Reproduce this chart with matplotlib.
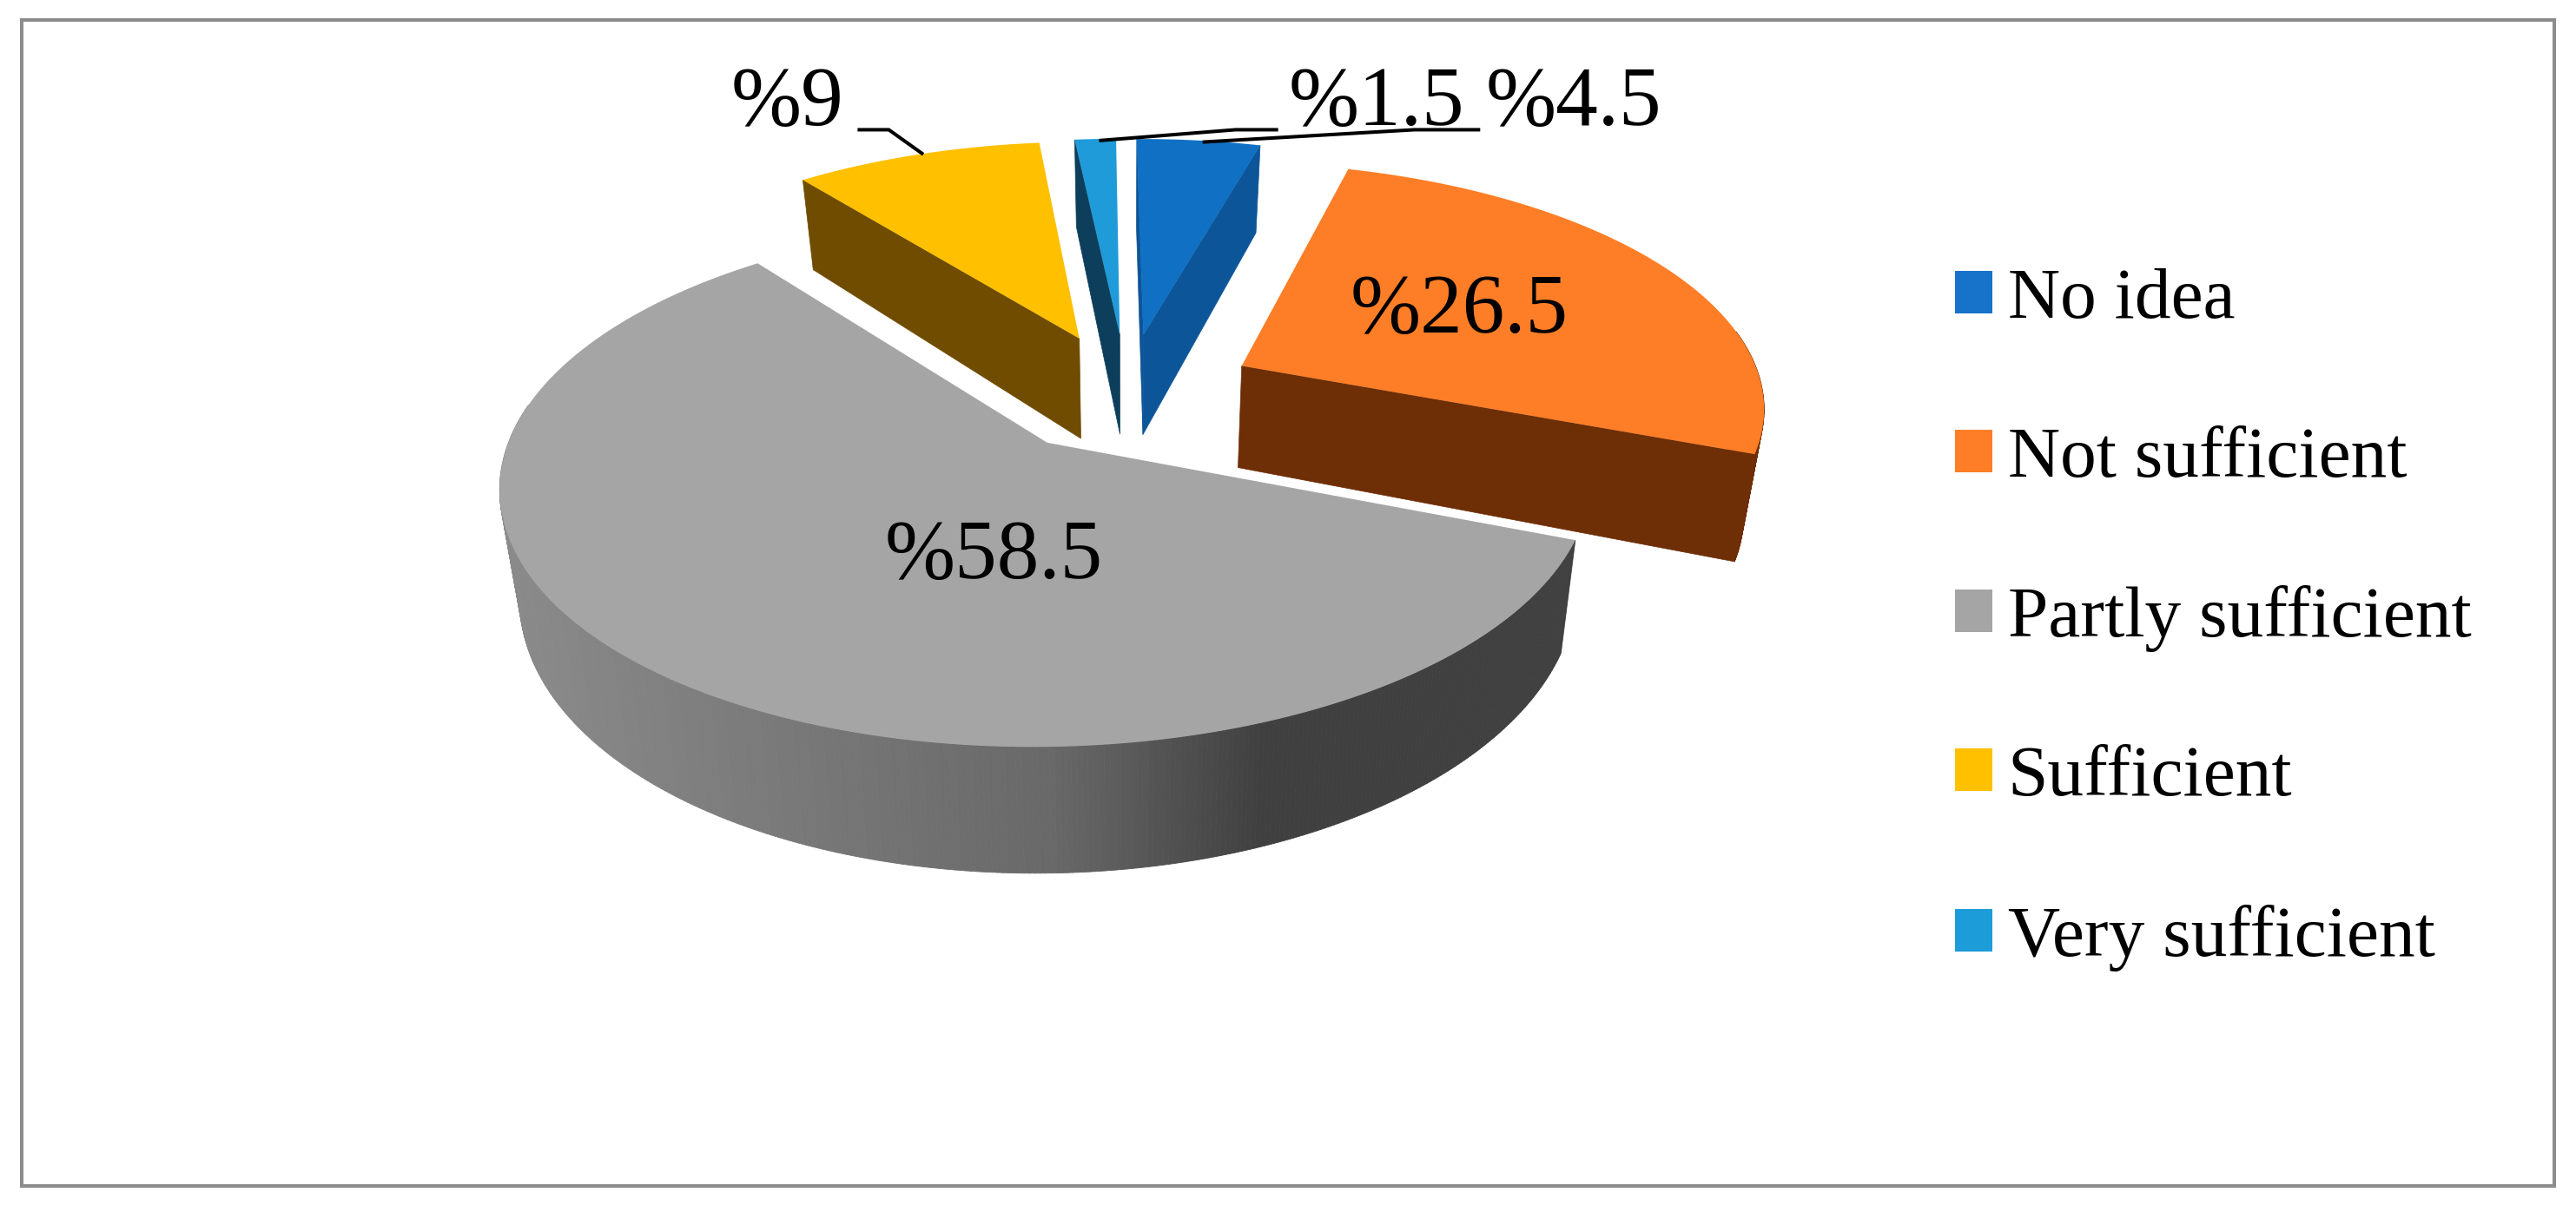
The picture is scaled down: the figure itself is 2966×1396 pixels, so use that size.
import numpy as np
import matplotlib
matplotlib.use("Agg")
import matplotlib.pyplot as plt
from matplotlib.patches import Rectangle, Patch
from matplotlib.collections import PolyCollection

categories = ["No idea", "Not sufficient", "Partly sufficient", "Sufficient", "Very sufficient"]
values = [4.5, 26.5, 58.5, 9.0, 1.5]
value_labels = ["%4.5", "%26.5", "%58.5", "%9", "%1.5"]
top_colors = ["#0F70C4", "#FE7E27", "#A5A5A5", "#FFC000", "#1F9BD9"]
wall_colors = ["#0D5599", "#6E2E06", "#404040", "#6F4C00", "#0D3F5C"]
legend_colors = ["#1773C9", "#FE7E27", "#A5A5A5", "#FFC000", "#1C9CD9"]

plt.rcParams["font.family"] = ["Liberation Serif", "DejaVu Serif"]
W, H = 2966, 1396
fig = plt.figure(figsize=(W / 100, H / 100), dpi=100, facecolor="white")
ax = fig.add_axes([0, 0, 1, 1])
ax.set_xlim(0, 1568)
ax.set_ylim(738, 0)
ax.axis("off")

# perspective model of the pie plane
XC, YC, A, B, K = 686.0, 239.0, 318.0, 147.0, 0.151
EXPLODE, DEPTH, SHRINK = 0.25, 63.0, 0.968
START = 90.6


def top(p, q):
    p, q = np.asarray(p, float), np.asarray(q, float)
    w = 1 + K * q
    return XC + A * p / w, YC - B * q / w


def bottom(p, q):
    x, y = top(p, q)
    w = 1 + K * np.asarray(q, float)
    return XC + (x - XC) * SHRINK, y + DEPTH / w


def gray_shade(x):
    return np.interp(x, [310, 640, 770, 960], [0.54, 0.41, 0.25, 0.25])


ax.add_patch(Rectangle((13, 12), 1542, 710, fill=False, ec="#8C8C8C", lw=2.9, zorder=1))

v = np.array(values)
ends = START - np.cumsum(v) * 3.6
starts = ends + v * 3.6
for i in [4, 0, 3, 1, 2]:
    t1, t2 = starts[i], ends[i]
    mid = np.radians((t1 + t2) / 2)
    p0, q0 = EXPLODE * np.cos(mid), EXPLODE * np.sin(mid)
    th = np.radians(np.linspace(t1, t2, max(int((t1 - t2) * 2), 2) + 1))
    pa, qa = p0 + np.cos(th), q0 + np.sin(th)
    z = 10 + [4, 0, 3, 1, 2].index(i) * 10
    # radial walls seen from the viewer
    for ang, nrm in ((t1, t1 + 90), (t2, t2 - 90)):
        if np.sin(np.radians(nrm)) < 0:
            pe = p0 + np.cos(np.radians(ang))
            qe = q0 + np.sin(np.radians(ang))
            xt, yt = top([p0, pe], [q0, qe])
            xb, yb = bottom([p0, pe], [q0, qe])
            ax.fill([xt[0], xt[1], xb[1], xb[0]], [yt[0], yt[1], yb[1], yb[0]],
                    color=wall_colors[i], lw=0.5, zorder=z)
    # outer wall
    xt, yt = top(pa, qa)
    xb, yb = bottom(pa, qa)
    polys, cols = [], []
    for j in range(len(th) - 1):
        if np.sin((th[j] + th[j + 1]) / 2) < 0.15:
            polys.append([(xt[j], yt[j]), (xt[j + 1], yt[j + 1]), (xb[j + 1], yb[j + 1]), (xb[j], yb[j])])
            if i == 2:
                s = float(gray_shade((xt[j] + xt[j + 1]) / 2))
                cols.append((s, s, s))
            else:
                cols.append(wall_colors[i])
    if polys:
        ax.add_collection(PolyCollection(polys, facecolors=cols, edgecolors=cols, linewidths=0.6, zorder=z + 1))
    # top face
    xs, ys = top(np.r_[p0, pa], np.r_[q0, qa])
    ax.fill(xs, ys, color=top_colors[i], lw=0, zorder=z + 2)

# leader lines
for xs, ys in (([522, 541, 562], [79, 79, 94]),
               ([778, 752, 669], [79, 79, 85.6]),
               ([901, 861, 732], [79, 79, 86.5])):
    ax.plot(xs, ys, color="black", lw=2.9, zorder=70, solid_capstyle="butt")

# value labels
label_pos = [(958, 64), (888, 190), (605, 340), (479, 64), (838, 64)]
for s, (x, y) in zip(value_labels, label_pos):
    ax.text(x, y, s, fontsize=70, ha="center", va="center", color="black", zorder=80)

# legend
handles = [Patch(facecolor=c, edgecolor="none", label=n) for c, n in zip(legend_colors, categories)]
leg = ax.legend(handles=handles, loc="upper left", bbox_to_anchor=(1190 / 1568, 1 - 163 / 738),
                frameon=False, fontsize=60, borderpad=0, borderaxespad=0, handlelength=0.52,
                handleheight=0.52, handletextpad=0.21, labelspacing=1.29)
leg.set_zorder(90)

fig.savefig("out.png", dpi=100, facecolor="white")
